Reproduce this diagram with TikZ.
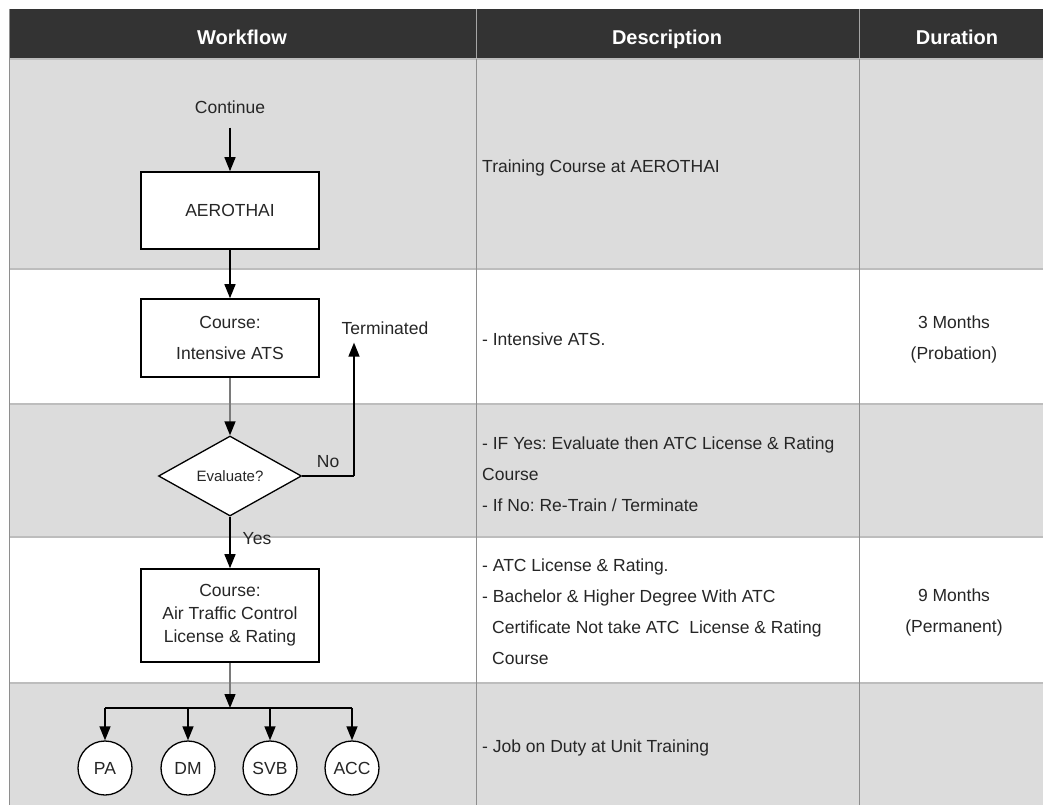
\documentclass[tikz,border=0pt]{standalone}
\usepackage{fontspec}
\setmainfont{Liberation Sans}
\usetikzlibrary{arrows.meta,shapes.geometric}
\frenchspacing

\definecolor{headgray}{HTML}{333333}
\definecolor{rowgray}{HTML}{DCDCDC}
\definecolor{rulegray}{HTML}{BDBDBD}
\definecolor{colgray}{HTML}{8E8E8E}
\definecolor{inkgray}{HTML}{262626}
\definecolor{stemgray}{HTML}{7A7A7A}

\begin{document}
\begin{tikzpicture}[x=1pt, y=-1pt,
  >={Triangle[length=14pt,width=11pt,color=black]},
  txt/.style={font=\fontsize{17.5}{31}\selectfont, text=inkgray, inner sep=0pt},
  hdr/.style={font=\fontsize{20}{24}\selectfont\bfseries, text=white, inner sep=0pt, anchor=base},
  flowbox/.style={draw, line width=1.6pt, fill=white, minimum width=178pt,
    inner sep=0pt, align=center, text=inkgray},
  unit/.style={draw, circle, line width=1.3pt, fill=white, minimum size=54pt,
    inner sep=0pt, font=\fontsize{17.5}{20}\selectfont, text=inkgray},
  link/.style={line width=1.4pt, ->},
  stem/.style={line width=1.4pt, draw=stemgray, ->}]

\useasboundingbox (0,0) rectangle (1043,805);
\fill[white] (0,0) rectangle (1043,805);

% HEADER
\fill[headgray] (9,9) rectangle (1043,59);
\draw[gray!70] (476,9) -- (476,59);
\draw[gray!70] (859,9) -- (859,59);
\node[hdr] (hwork) at (242,45) {Workflow};
\node[hdr] (hdesc) at (667,45) {Description};
\node[hdr] (hdur) at (957,45) {Duration};

% ROWS
\fill[rowgray] (9,59) rectangle (1043,269);
\fill[white] (9,269) rectangle (1043,404);
\fill[rowgray] (9,404) rectangle (1043,537);
\fill[white] (9,537) rectangle (1043,683);
\fill[rowgray] (9,683) rectangle (1043,805);
\foreach \y in {59,269,404,537,683}
  \draw[rulegray, line width=2pt] (9,\y) -- (1043,\y);

% COLUMNS
\draw[colgray] (9,9) -- (9,805);
\draw[colgray] (476,59) -- (476,805);
\draw[colgray] (859,59) -- (859,805);

% WORKFLOW
\node[txt] (cont) at (230,107) {Continue};
\node[flowbox, minimum height=77pt, font=\fontsize{17.5}{31}\selectfont] (aero) at (230,210.5) {AEROTHAI};
\node[flowbox, minimum height=78pt, font=\fontsize{17.5}{31}\selectfont] (ats) at (230,338) {Course:\\Intensive ATS};
\node[draw, diamond, line width=1.3pt, fill=white, minimum width=143pt, minimum height=80pt,
  inner sep=0pt, font=\fontsize{15}{18}\selectfont, text=inkgray] (eval) at (230,476) {Evaluate?};
\node[txt, inner ysep=8pt] (term) at (385,328) {Terminated};
\node[flowbox, minimum height=93pt, font=\fontsize{17.5}{23}\selectfont] (atc) at (230,615.5)
  {Course:\\Air Traffic Control\\License \& Rating};
\coordinate (noturn) at (354,476);
\coordinate (split) at (230,708);

\node[unit] (pa) at (105,768) {PA};
\node[unit] (dm) at (188,768) {DM};
\node[unit] (svb) at (270,768) {SVB};
\node[unit] (acc) at (352,768) {ACC};

% CONNECTORS
\draw[link] ([yshift=-14pt]cont.south) -- (aero);
\draw[link] (aero) -- (ats);
\draw[stem] (ats) -- (eval);
\draw[line width=1.4pt] (eval.east) -- node[txt, above=8pt] {No} (noturn);
\draw[link] (noturn) -- (noturn |- term.south);
\draw[link] (eval) -- node[txt, pos=0.42, right=12pt] {Yes} (atc);
\draw[stem] (atc) -- (split);
\draw[line width=1.4pt] (pa.north |- split) -- (acc.north |- split);
\foreach \u in {pa,dm,svb,acc}
  \draw[link] (\u.north |- split) -- (\u);

% DESCRIPTION
\node[txt, anchor=west] (d1) at (482,168) {Training Course at AEROTHAI};
\node[txt, anchor=west] (d2) at (482,339) {- Intensive ATS.};
\node[txt, anchor=west, align=left] (d3) at (482,474)
  {- IF Yes: Evaluate then ATC License \& Rating\\Course\\- If No: Re-Train / Terminate};
\node[txt, anchor=west, align=left] (d4) at (482,611.5)
  {- ATC License \& Rating.\\- Bachelor \& Higher Degree With ATC\\
   \hspace*{10pt}Certificate Not take ATC~ License \& Rating\\\hspace*{10pt}Course};
\node[txt, anchor=west] (d5) at (482,748) {- Job on Duty at Unit Training};

% DURATION
\node[txt, align=center] (t2) at (954,339) {3 Months\\(Probation)};
\node[txt, align=center] (t4) at (954,612.5) {9 Months\\(Permanent)};

\end{tikzpicture}
\end{document}
